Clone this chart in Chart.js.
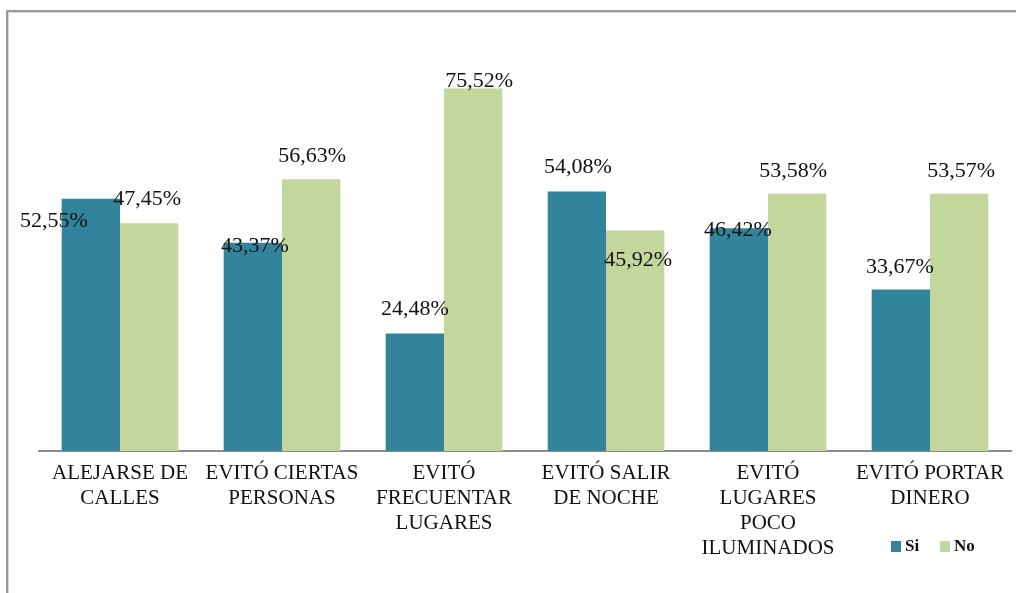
<!DOCTYPE html>
<html>
<head>
<meta charset="utf-8">
<script src="https://cdn.jsdelivr.net/npm/chart.js@4/dist/chart.umd.min.js"></script>
<style>
  html, body { margin: 0; padding: 0; background: #fff; overflow: hidden; }
  #frame {
    position: absolute; left: 6px; top: 10px; width: 1100px; height: 700px;
    border-top: 2px solid #9a9a9a; border-left: 2px solid #9a9a9a;
    box-shadow: inset 1px 1px 0 #d6d6d6;
  }
  #wrap { position: absolute; left: 0; top: 0; width: 1016px; height: 593px; }
</style>
</head>
<body>
<div id="frame"></div>
<div id="wrap"><canvas id="chart" width="1016" height="593"></canvas></div>
<script>
// categories (wrapped the same way as the original axis)
const categories = [
  ['ALEJARSE DE', 'CALLES'],
  ['EVITÓ CIERTAS', 'PERSONAS'],
  ['EVITÓ', 'FRECUENTAR', 'LUGARES'],
  ['EVITÓ SALIR', 'DE NOCHE'],
  ['EVITÓ', 'LUGARES', 'POCO', 'ILUMINADOS'],
  ['EVITÓ PORTAR', 'DINERO']
];

// series values (%)
const siValues = [52.55, 43.37, 24.48, 54.08, 46.42, 33.67];
const noValues = [47.45, 56.63, 75.52, 45.92, 53.58, 53.57];

// where each value label sits relative to the top of its bar (dx, dy)
const siLabelOffsets = [[-37, 22], [2, 3], [0, -24], [1, -24], [-1, 2], [-1, -22]];
const noLabelOffsets = [[-2, -24], [1, -23], [6, -7], [3, 30], [-4, -23], [2, -23]];

const SI_COLOR = '#31849b';
const NO_COLOR = '#c3d69b';
const SERIF = '"Liberation Serif", serif';

Chart.defaults.font.family = SERIF;
Chart.defaults.color = '#111';

// value labels drawn above the bars, Excel style
const valueLabels = {
  id: 'valueLabels',
  afterDatasetsDraw(chart) {
    const ctx = chart.ctx;
    const offsets = [siLabelOffsets, noLabelOffsets];
    ctx.save();
    ctx.font = '22px ' + SERIF;
    ctx.fillStyle = '#111';
    ctx.textAlign = 'center';
    ctx.textBaseline = 'middle';
    chart.data.datasets.forEach((ds, i) => {
      chart.getDatasetMeta(i).data.forEach((bar, j) => {
        const [dx, dy] = offsets[i][j];
        const txt = ds.data[j].toFixed(2).replace('.', ',') + '%';
        ctx.fillText(txt, bar.x + dx, bar.y + dy);
      });
    });
    ctx.restore();
  }
};

// small legend in the lower right corner
const cornerLegend = {
  id: 'cornerLegend',
  afterDraw(chart) {
    const ctx = chart.ctx;
    let x = 891;
    const y = 546;
    ctx.save();
    ctx.font = 'bold 17px ' + SERIF;
    ctx.textBaseline = 'middle';
    chart.data.datasets.forEach(ds => {
      ctx.fillStyle = ds.backgroundColor;
      ctx.fillRect(x, y - 5, 10, 11);
      ctx.fillStyle = '#111';
      ctx.fillText(ds.label, x + 14, y + 1);
      x += 49;
    });
    ctx.restore();
  }
};

new Chart(document.getElementById('chart'), {
  type: 'bar',
  data: {
    labels: categories,
    datasets: [
      { label: 'Si', data: siValues, backgroundColor: SI_COLOR },
      { label: 'No', data: noValues, backgroundColor: NO_COLOR }
    ]
  },
  options: {
    responsive: false,
    animation: false,
    layout: { padding: { left: 39, right: 5, top: 67, bottom: 0 } },
    datasets: { bar: { barPercentage: 1, categoryPercentage: 0.72 } },
    scales: {
      x: {
        grid: { display: false, drawTicks: false },
        border: { display: true, color: '#8c8c8c', width: 2 },
        ticks: {
          color: '#111',
          font: { family: SERIF, size: 21, lineHeight: '25px' },
          padding: 10,
          maxRotation: 0,
          autoSkip: false
        },
        afterFit(scale) { scale.height = 142; }
      },
      y: { display: false, min: 0, max: 80 }
    },
    plugins: {
      legend: { display: false },
      tooltip: { enabled: false }
    }
  },
  plugins: [valueLabels, cornerLegend]
});
</script>
</body>
</html>
